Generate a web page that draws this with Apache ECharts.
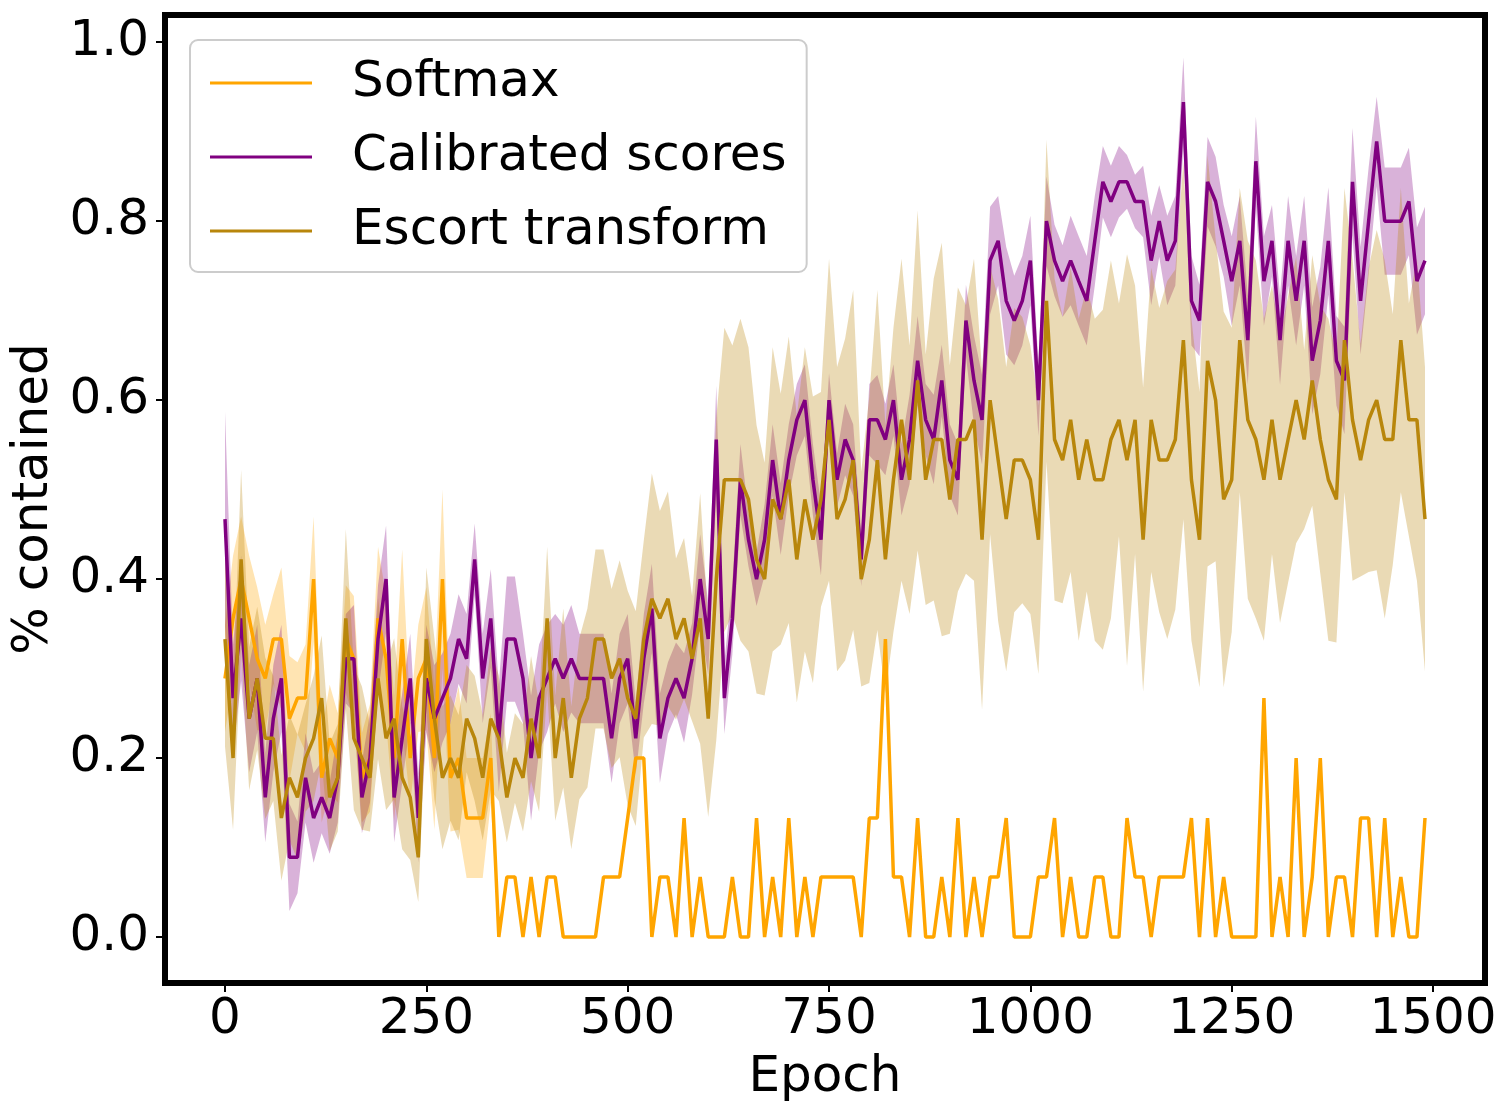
<!DOCTYPE html>
<html lang="en" style="height: 100%">
<head>
  <meta charset="utf-8">
  <title>% contained per epoch</title>
</head>
<body style="height: 100%; margin: 0; background: #fff">
  <div id="container" style="width: 1510px; height: 1116px"></div>

  <script src="https://cdn.jsdelivr.net/npm/echarts@6/dist/echarts.min.js"></script>

  <script type="text/javascript">
// epochs (one point every 10 epochs)
var epochs = [
  0, 10, 20, 30, 40, 50, 60, 70, 80, 90,
  100, 110, 120, 130, 140, 150, 160, 170, 180, 190,
  200, 210, 220, 230, 240, 250, 260, 270, 280, 290,
  300, 310, 320, 330, 340, 350, 360, 370, 380, 390,
  400, 410, 420, 430, 440, 450, 460, 470, 480, 490,
  500, 510, 520, 530, 540, 550, 560, 570, 580, 590,
  600, 610, 620, 630, 640, 650, 660, 670, 680, 690,
  700, 710, 720, 730, 740, 750, 760, 770, 780, 790,
  800, 810, 820, 830, 840, 850, 860, 870, 880, 890,
  900, 910, 920, 930, 940, 950, 960, 970, 980, 990,
  1000, 1010, 1020, 1030, 1040, 1050, 1060, 1070, 1080, 1090,
  1100, 1110, 1120, 1130, 1140, 1150, 1160, 1170, 1180, 1190,
  1200, 1210, 1220, 1230, 1240, 1250, 1260, 1270, 1280, 1290,
  1300, 1310, 1320, 1330, 1340, 1350, 1360, 1370, 1380, 1390,
  1400, 1410, 1420, 1430, 1440, 1450, 1460, 1470, 1480, 1490
];

// mean % contained
var softmax = [
  .289, .356, .4, .356, .311, .289, .333, .333, .244, .267,
  .267, .4, .178, .222, .2, .333, .311, .178, .2, .356,
  .311, .2, .333, .2, .289, .311, .2, .4, .178, .2,
  .133, .133, .133, .2, 0, .067, .067, 0, .067, 0,
  .067, .067, 0, 0, 0, 0, 0, .067, .067, .067,
  .133, .2, .2, 0, .067, .067, 0, .133, 0, .067,
  0, 0, 0, .067, 0, 0, .133, 0, .067, 0,
  .133, 0, .067, 0, .067, .067, .067, .067, .067, 0,
  .133, .133, .333, .067, .067, 0, .133, 0, 0, .067,
  0, .133, 0, .067, 0, .067, .067, .133, 0, 0,
  0, .067, .067, .133, 0, .067, 0, 0, .067, .067,
  0, 0, .133, .067, .067, 0, .067, .067, .067, .067,
  .133, 0, .133, 0, .067, 0, 0, 0, 0, .267,
  0, .067, 0, .2, 0, .067, .2, 0, .067, .067,
  0, .133, .133, 0, .133, 0, .067, 0, 0, .133
];
var calibrated = [
  .467, .267, .356, .244, .289, .156, .244, .289, .089, .089,
  .178, .133, .156, .133, .178, .311, .311, .156, .2, .333,
  .4, .156, .222, .289, .133, .289, .244, .267, .289, .333,
  .311, .422, .289, .356, .222, .333, .333, .289, .2, .267,
  .289, .311, .289, .311, .289, .289, .289, .289, .222, .289,
  .311, .222, .311, .367, .222, .267, .289, .267, .311, .4,
  .333, .556, .267, .356, .511, .444, .4, .444, .533, .467,
  .533, .578, .6, .511, .444, .6, .511, .556, .533, .422,
  .578, .578, .556, .6, .511, .556, .644, .578, .556, .622,
  .533, .511, .689, .622, .578, .756, .778, .711, .689, .711,
  .756, .6, .8, .756, .733, .756, .733, .711, .778, .844,
  .822, .844, .844, .822, .822, .756, .8, .756, .778, .933,
  .711, .689, .844, .822, .778, .733, .778, .667, .867, .733,
  .778, .667, .778, .711, .778, .644, .689, .778, .644, .622,
  .844, .711, .8, .889, .8, .8, .8, .822, .733, .756
];
var escort = [
  .333, .2, .422, .244, .289, .222, .222, .133, .178, .156,
  .2, .222, .267, .156, .178, .356, .222, .2, .178, .289,
  .222, .244, .178, .156, .089, .333, .244, .178, .2, .178,
  .244, .222, .178, .244, .222, .156, .2, .178, .244, .2,
  .356, .2, .267, .178, .244, .267, .333, .333, .289, .311,
  .267, .244, .333, .378, .356, .378, .333, .356, .311, .356,
  .244, .4, .511, .511, .511, .489, .422, .4, .489, .467,
  .511, .422, .489, .444, .489, .578, .467, .489, .533, .4,
  .444, .533, .422, .511, .578, .511, .622, .511, .556, .556,
  .489, .556, .556, .578, .444, .6, .533, .467, .533, .533,
  .511, .444, .711, .556, .533, .578, .511, .556, .511, .511,
  .556, .578, .533, .578, .444, .578, .533, .533, .556, .667,
  .511, .444, .644, .6, .489, .511, .667, .578, .556, .511,
  .578, .511, .556, .6, .556, .622, .556, .511, .489, .667,
  .578, .533, .578, .6, .556, .556, .667, .578, .578, .467
];

// spread (half-width of the shaded band)
var softmaxStd = [
  .06, .07, .07, .07, .08, .06, .05, .08, .07, .04,
  .06, .07, .05, .06, .05, .06, .07, .05, .06, .08,
  .07, .07, .1, .05, .06, .08, .08, .1, .06, .08,
  .067, .067, .067, .05, 0, 0, 0, 0, 0, 0,
  0, 0, 0, 0, 0, 0, 0, 0, 0, 0,
  0, 0, 0, 0, 0, 0, 0, 0, 0, 0,
  0, 0, 0, 0, 0, 0, 0, 0, 0, 0,
  0, 0, 0, 0, 0, 0, 0, 0, 0, 0,
  0, 0, 0, 0, 0, 0, 0, 0, 0, 0,
  0, 0, 0, 0, 0, 0, 0, 0, 0, 0,
  0, 0, 0, 0, 0, 0, 0, 0, 0, 0,
  0, 0, 0, 0, 0, 0, 0, 0, 0, 0,
  0, 0, 0, 0, 0, 0, 0, 0, 0, 0,
  0, 0, 0, 0, 0, 0, 0, 0, 0, 0,
  0, 0, 0, 0, 0, 0, 0, 0, 0, 0
];
var calibratedStd = [
  .12, .06, .07, .06, .06, .05, .06, .06, .06, .04,
  .05, .05, .04, .04, .05, .05, .06, .04, .05, .06,
  .06, .05, .05, .05, .05, .06, .06, .05, .05, .05,
  .05, .04, .05, .055, .06, .07, .07, .05, .07, .06,
  .06, .05, .06, .06, .05, .05, .05, .05, .05, .05,
  .05, .04, .05, .05, .05, .04, .04, .05, .04, .05,
  .04, .06, .04, .04, .04, .03, .03, .04, .04, .04,
  .04, .04, .04, .04, .04, .03, .03, .04, .04, .03,
  .04, .05, .04, .04, .04, .05, .05, .04, .05, .04,
  .04, .04, .04, .05, .05, .06, .05, .06, .05, .05,
  .05, .04, .05, .04, .04, .05, .05, .05, .05, .04,
  .04, .04, .03, .03, .04, .05, .04, .05, .05, .05,
  .05, .04, .05, .05, .04, .05, .05, .05, .05, .05,
  .04, .05, .05, .05, .05, .06, .06, .06, .05, .06,
  .06, .06, .06, .05, .06, .06, .06, .06, .06, .06
];
var escortStd = [
  .12, .08, .1, .08, .08, .09, .07, .07, .07, .07,
  .06, .07, .07, .06, .06, .1, .08, .08, .06, .09,
  .08, .09, .08, .07, .05, .08, .09, .08, .07, .07,
  .06, .07, .07, .08, .07, .05, .05, .06, .07, .06,
  .08, .07, .1, .08, .09, .1, .1, .1, .1, .11,
  .12, .12, .11, .14, .12, .12, .09, .09, .07, .14,
  .11, .18, .17, .15, .18, .17, .15, .13, .17, .14,
  .16, .16, .17, .16, .12, .18, .17, .18, .19, .12,
  .16, .19, .15, .17, .18, .15, .19, .14, .18, .22,
  .15, .17, .15, .18, .19, .15, .18, .17, .17, .16,
  .15, .15, .18, .18, .16, .17, .18, .17, .18, .19,
  .2, .13, .23, .15, .17, .17, .17, .2, .19, .2,
  .18, .165, .23, .18, .21, .17, .17, .2, .2, .18,
  .15, .16, .16, .16, .1, .14, .15, .18, .16, .17,
  .18, .13, .17, .19, .2, .14, .17, .13, .18, .17
];

var xTicks = [0, 250, 500, 750, 1000, 1250, 1500];
var yTicks = [0, 0.2, 0.4, 0.6, 0.8, 1.0];

var names = ['Softmax', 'Calibrated scores', 'Escort transform'];
var colors = ['#FFA500', '#800080', '#B8860B'];
var bandColors = ['rgba(255,165,0,0.3)', 'rgba(128,0,128,0.3)', 'rgba(184,134,11,0.3)'];
var means = [softmax, calibrated, escort];
var spreads = [softmaxStd, calibratedStd, escortStd];

var FONT = 'DejaVu Sans';
var FS = 50;

var dom = document.getElementById('container');
var myChart = echarts.init(dom, null, { renderer: 'canvas' });
var option;

// shaded band: one polygon, upper edge forward then lower edge back
function bandSeries(k) {
  var m = means[k], s = spreads[k];
  return {
    type: 'custom',
    name: names[k] + ' band',
    silent: true,
    z: 1,
    data: [[epochs[0], m[0]]],
    renderItem: function (params, api) {
      if (params.dataIndex !== 0) return;
      var pts = [];
      for (var i = 0; i < epochs.length; i++) {
        pts.push(api.coord([epochs[i], m[i] + s[i]]));
      }
      for (var j = epochs.length - 1; j >= 0; j--) {
        pts.push(api.coord([epochs[j], m[j] - s[j]]));
      }
      return {
        type: 'polygon',
        shape: { points: pts },
        style: { fill: bandColors[k] }
      };
    }
  };
}

function lineSeries(k) {
  return {
    type: 'line',
    name: names[k],
    z: 3,
    showSymbol: false,
    symbol: 'none',
    silent: true,
    data: epochs.map(function (e, i) { return [e, means[k][i]]; }),
    itemStyle: { color: colors[k] },
    lineStyle: { color: colors[k], width: 3.5 }
  };
}

option = {
  backgroundColor: '#fff',
  animation: false,
  textStyle: { fontFamily: FONT },
  grid: {
    left: 165,
    top: 15,
    width: 1320,
    height: 968,
    show: true,
    borderColor: '#000',
    borderWidth: 6,
    backgroundColor: '#fff'
  },
  legend: {
    data: names,
    orient: 'vertical',
    left: 190,
    top: 40,
    icon: 'rect',
    itemWidth: 102,
    itemHeight: 3,
    itemGap: 16,
    padding: [14, 20, 12, 20],
    backgroundColor: 'rgba(255,255,255,0.8)',
    borderColor: '#cccccc',
    borderWidth: 2,
    borderRadius: 8,
    textStyle: {
      fontFamily: FONT,
      fontSize: FS,
      color: '#000',
      lineHeight: 58,
      padding: [0, 0, 0, 35]
    }
  },
  xAxis: {
    type: 'value',
    min: -74.5,
    max: 1564.5,
    name: 'Epoch',
    nameLocation: 'middle',
    nameGap: 70,
    nameTextStyle: { fontFamily: FONT, fontSize: FS, color: '#000' },
    splitLine: { show: false },
    axisLine: { show: false, onZero: false },
    axisTick: {
      show: true,
      customValues: xTicks,
      length: 9,
      lineStyle: { color: '#000', width: 2 }
    },
    axisLabel: {
      customValues: xTicks,
      fontFamily: FONT,
      fontSize: FS,
      color: '#000',
      margin: 12,
      formatter: function (v) { return String(v); }
    }
  },
  yAxis: {
    type: 'value',
    min: -0.0514,
    max: 1.0304,
    name: '% contained',
    nameLocation: 'middle',
    nameRotate: 90,
    nameGap: 95,
    nameTextStyle: { fontFamily: FONT, fontSize: FS, color: '#000' },
    splitLine: { show: false },
    axisLine: { show: false, onZero: false },
    axisTick: {
      show: true,
      customValues: yTicks,
      length: 9,
      lineStyle: { color: '#000', width: 2 }
    },
    axisLabel: {
      customValues: yTicks,
      fontFamily: FONT,
      fontSize: FS,
      color: '#000',
      margin: 16,
      formatter: function (v) { return v.toFixed(1); }
    }
  },
  series: [
    bandSeries(0), bandSeries(1), bandSeries(2),
    lineSeries(0), lineSeries(1), lineSeries(2)
  ]
};

myChart.setOption(option);
window.addEventListener('resize', myChart.resize);
  </script>
</body>
</html>
